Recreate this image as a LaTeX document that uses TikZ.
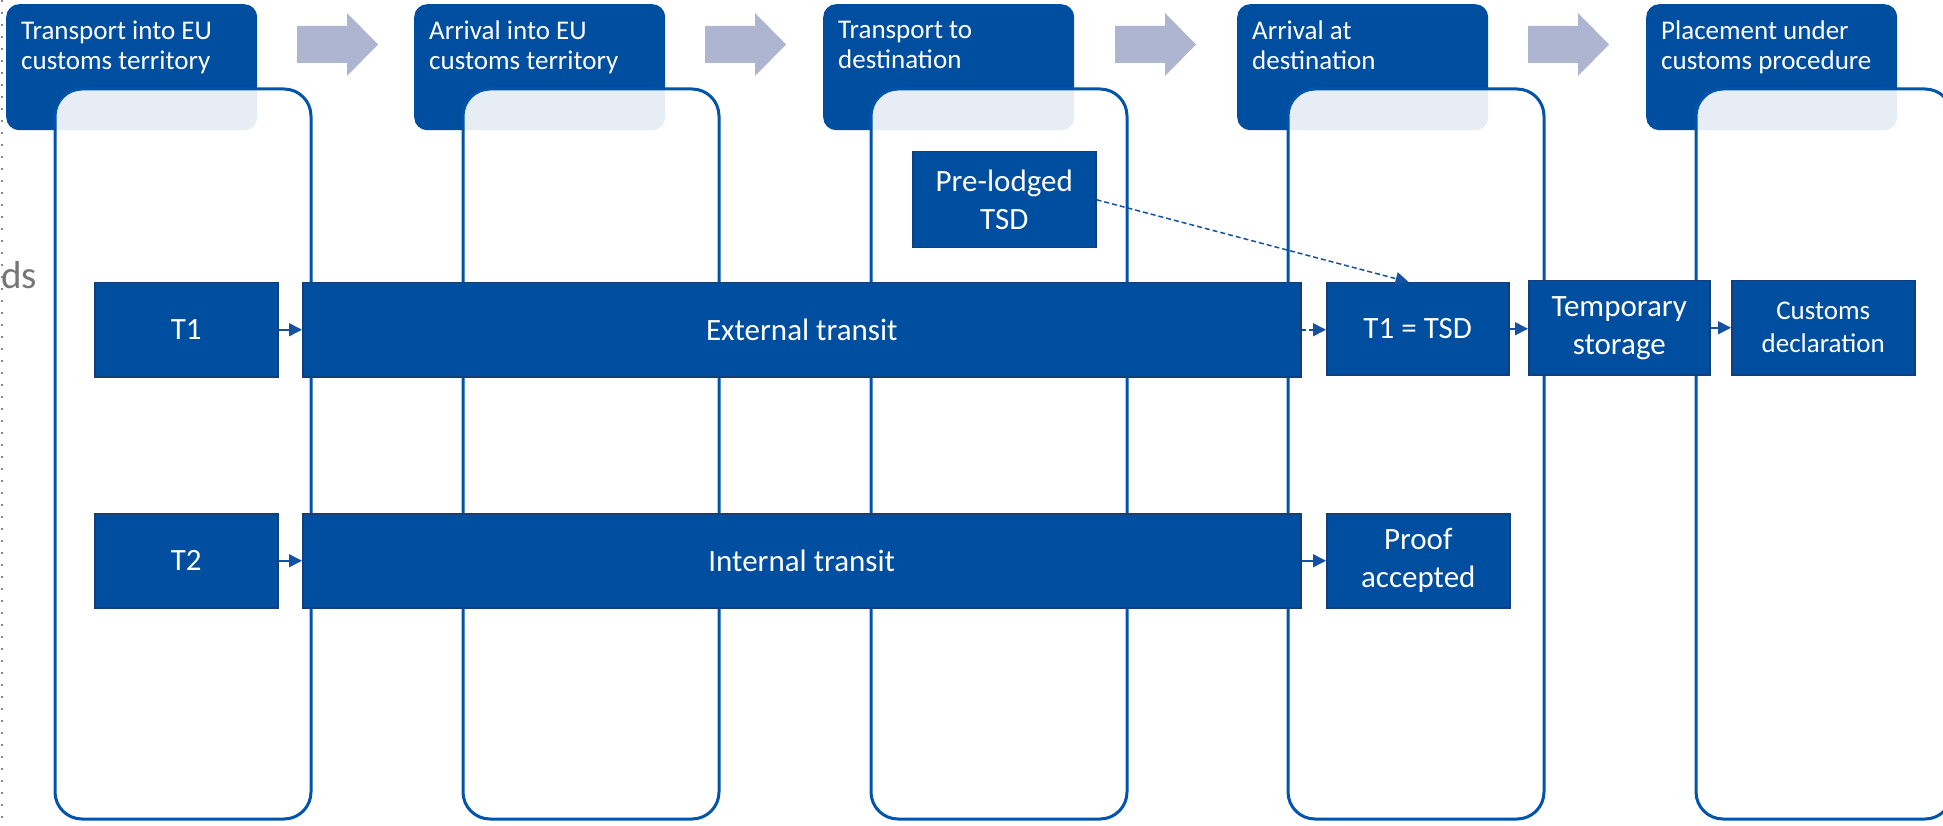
\documentclass[tikz,border=0pt]{standalone}
\usepackage{fontspec}
\setmainfont{Carlito}
\usetikzlibrary{arrows.meta,calc}
\definecolor{hdrblue}{RGB}{0,78,160}
\definecolor{boxblue}{RGB}{0,78,160}
\definecolor{boxedge}{RGB}{20,62,120}
\definecolor{frameblue}{RGB}{0,84,172}
\definecolor{connblue}{RGB}{20,82,160}
\definecolor{bigarrowc}{RGB}{173,181,208}
\definecolor{greytxt}{RGB}{118,118,118}
\tikzset{
  hdr/.style={fill=hdrblue, rounded corners=13pt, minimum width=251pt, minimum height=126pt, inner sep=0pt, anchor=north west},
  hdrtxt/.style={text=white, font=\fontsize{27}{30}\selectfont, align=left, anchor=north west, inner sep=0pt, execute at begin node=\strut},
  colframe/.style={draw=frameblue, line width=3pt, fill=white, fill opacity=0.9, rounded corners=27pt},
  bigarrow/.style={fill=bigarrowc},
  stepbox/.style={fill=boxblue, draw=boxedge, line width=1.5pt, text=white, font=\fontsize{31}{38}\selectfont, align=center, inner sep=0pt, anchor=north west, minimum height=94pt},
  smallbox/.style={stepbox, font=\fontsize{27}{33}\selectfont},
  conn/.style={draw=connblue, line width=1.5pt, -{Triangle[length=13pt,width=13pt]}},
  conndash/.style={conn, dash pattern=on 4pt off 3pt},
}
\begin{document}
\begin{tikzpicture}[x=1pt,y=-1pt]
\useasboundingbox (0,0) rectangle (1943,826);
\clip (0,0) rectangle (1943,826);
% dotted edge line and cut-off text
\draw[greytxt!85, line width=2pt, dash pattern=on 2pt off 10pt] (1.5,0) -- (1.5,826);
\node[text=greytxt, font=\fontsize{39}{46}\selectfont, anchor=base east, inner sep=0pt] (ds) at (37,289) {ds};
% headers
\node[hdr] (h1) at (6,4) {};
\node[hdr] (h2) at (414,4) {};
\node[hdr] (h3) at (823,4) {};
\node[hdr] (h4) at (1237,4) {};
\node[hdr] (h5) at (1646,4) {};
\node[hdrtxt] (h1t) at ($(h1.north west)+(15,17)$) {Transport into EU\\customs territory};
\node[hdrtxt] (h2t) at ($(h2.north west)+(15,17)$) {Arrival into EU\\customs territory};
\node[hdrtxt] (h3t) at ($(h3.north west)+(15,17)$) {Transport to\\destination};
\node[hdrtxt] (h4t) at ($(h4.north west)+(15,17)$) {Arrival at\\destination};
\node[hdrtxt] (h5t) at ($(h5.north west)+(15,17)$) {Placement under\\customs procedure};
% big arrows
\foreach \dx in {0,408,818,1231}{
  \fill[bigarrow, shift={(\dx,0)}] (297,26) -- (347,26) -- (347,13) -- (378,44.5) -- (347,76) -- (347,63) -- (297,63) -- cycle;
}
% column frames
\foreach \cx in {55,463,871,1288,1696}{
  \draw[colframe] (\cx,89) rectangle ++(256,730);
}
% boxes
\node[stepbox, minimum width=183pt] (t1) at (94,282) {T1};
\node[stepbox, minimum width=998pt] (ext) at (302,282) {External transit};
\node[stepbox, minimum width=182pt, minimum height=92pt] (tsd) at (1326,282) {T1 = TSD};
\node[stepbox, minimum width=181pt] (tmp) at (1528,280) {Temporary\\storage};
\node[smallbox, minimum width=183pt] (cd) at (1731,280) {Customs\\declaration};
\node[stepbox, minimum width=183pt] (t2) at (94,513) {T2};
\node[stepbox, minimum width=998pt] (int) at (302,513) {Internal transit};
\node[stepbox, minimum width=183pt] (proof) at (1326,513) {Proof\\accepted};
\node[stepbox, minimum width=183pt, minimum height=96pt] (pre) at (912,151) {Pre-lodged\\TSD};
% connectors
\draw[conn] (t1.east) -- (t1.east -| ext.west);
\draw[conndash] (ext.east) -- (ext.east -| tsd.west);
\draw[conn] (tsd.east) -- (tsd.east -| tmp.west);
\draw[conn] (tmp.east) -- (tmp.east -| cd.west);
\draw[conn] (t2.east) -- (t2.east -| int.west);
\draw[conn] (int.east) -- (int.east -| proof.west);
\coordinate (tsdtop) at ($(tsd.north west)!0.45!(tsd.north east)$);
\draw[conn, dash pattern=on 5pt off 3pt] (pre.east) -- (tsdtop);
\end{tikzpicture}
\end{document}
